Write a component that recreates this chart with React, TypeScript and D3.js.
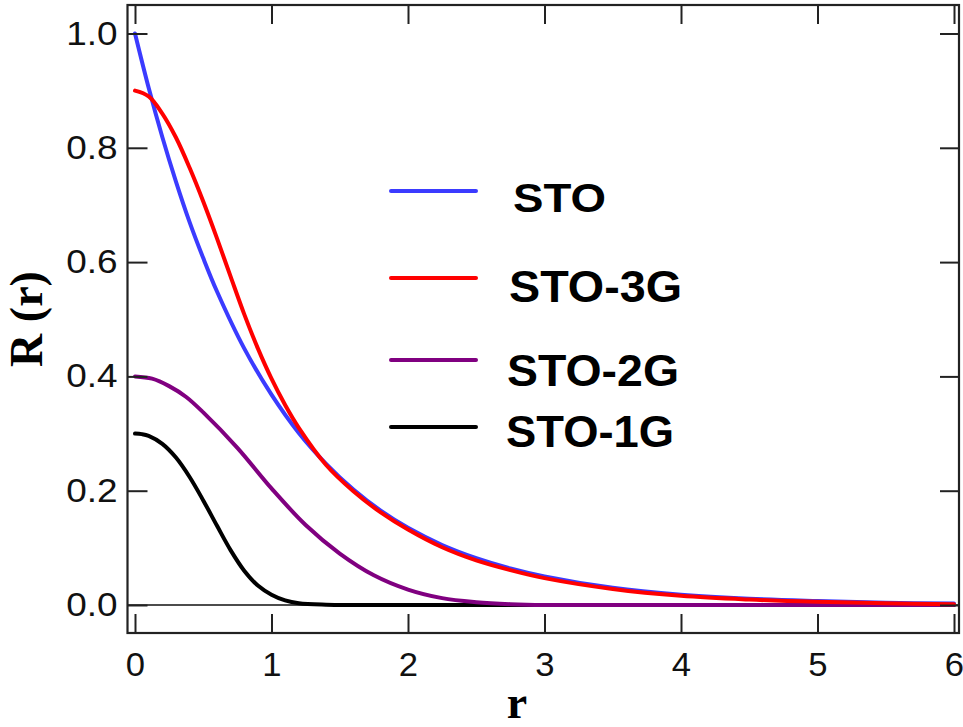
import React, { useEffect, useRef } from 'react';
import * as d3 from 'd3';

const width = 963;
const height = 727;

// values
const stoR = [0, 0.1, 0.2, 0.3, 0.4, 0.5, 0.6, 0.8, 1.0, 1.2, 1.4, 1.6, 1.8, 2.0, 2.25, 2.5, 2.75, 3.0, 3.5, 4.0, 4.5, 5.0, 5.5, 6.0];
const stoV = [1.0, 0.905, 0.819, 0.741, 0.67, 0.607, 0.549, 0.449, 0.368, 0.301, 0.247, 0.202, 0.165, 0.135, 0.105, 0.082, 0.064, 0.05, 0.03, 0.018, 0.011, 0.007, 0.004, 0.0025];

const sto3gR = [0, 0.1, 0.2, 0.3, 0.4, 0.5, 0.6, 0.7, 0.8, 0.9, 1.0, 1.1, 1.2, 1.4, 1.6, 1.8, 2.0, 2.25, 2.5, 2.75, 3.0, 3.5, 4.0, 4.5, 5.0, 5.5, 6.0];
const sto3gV = [0.9, 0.89, 0.86, 0.818, 0.765, 0.706, 0.642, 0.575, 0.509, 0.449, 0.396, 0.35, 0.31, 0.245, 0.199, 0.162, 0.132, 0.101, 0.078, 0.061, 0.047, 0.028, 0.016, 0.0095, 0.0055, 0.003, 0.0015];

const sto2gR = [0, 0.125, 0.25, 0.375, 0.5, 0.75, 1.0, 1.25, 1.5, 1.75, 2.0, 2.25, 2.5, 2.75, 3.0, 4.0, 5.0, 6.0];
const sto2gV = [0.4, 0.396, 0.383, 0.364, 0.337, 0.275, 0.204, 0.14, 0.09, 0.052, 0.027, 0.012, 0.005, 0.0015, 0, 0, 0, 0];

const sto1gR = [0, 0.05, 0.1, 0.2, 0.3, 0.4, 0.5, 0.6, 0.7, 0.8, 0.9, 1.0, 1.1, 1.2, 1.4, 1.6, 2.0, 3.0, 4.0, 5.0, 6.0];
const sto1gV = [0.3, 0.299, 0.296, 0.282, 0.258, 0.224, 0.183, 0.139, 0.096, 0.06, 0.034, 0.018, 0.008, 0.003, 0.0005, 0, 0, 0, 0, 0, 0];

const labels = ['STO', 'STO-3G', 'STO-2G', 'STO-1G'];
const colors = ['#3b3bff', '#ff0000', '#800080', '#000000'];

const xTicks = [0, 1, 2, 3, 4, 5, 6];
const yTicks = [0, 0.2, 0.4, 0.6, 0.8, 1.0];

const frame = { left: 127.5, right: 959, top: 5, bottom: 633 };

const x = d3.scaleLinear().domain([0, 6]).range([135, 954]);
const y = d3.scaleLinear().domain([0, 1]).range([605, 33.5]);

const App = () => {
  const ref = useRef<SVGSVGElement>(null);

  useEffect(() => {
    const svg = d3.select(ref.current);
    svg.selectAll('*').remove();

    const series = [
      { name: labels[3], r: sto1gR, v: sto1gV, color: colors[3] },
      { name: labels[2], r: sto2gR, v: sto2gV, color: colors[2] },
      { name: labels[0], r: stoR, v: stoV, color: colors[0] },
      { name: labels[1], r: sto3gR, v: sto3gV, color: colors[1] },
    ];

    // zero line
    svg
      .append('line')
      .attr('x1', frame.left)
      .attr('x2', frame.right)
      .attr('y1', y(0))
      .attr('y2', y(0))
      .attr('stroke', '#111')
      .attr('stroke-width', 1.6);

    const line = d3
      .line<[number, number]>()
      .x(d => x(d[0]))
      .y(d => y(Math.max(d[1], 0)))
      .curve(d3.curveCatmullRom.alpha(0.5));

    svg
      .selectAll('path.series')
      .data(series)
      .enter()
      .append('path')
      .classed('series', true)
      .attr('d', s => line(s.r.map((r, i) => [r, s.v[i]] as [number, number])))
      .attr('fill', 'none')
      .attr('stroke', s => s.color)
      .attr('stroke-width', 4)
      .attr('stroke-linecap', 'round');

    // axes
    const styleAxis = (g: any) => {
      g.select('.domain').remove();
      g.selectAll('.tick line').attr('stroke', '#222').attr('stroke-width', 2);
      g.selectAll('.tick text')
        .attr('fill', '#111')
        .style('font-family', '"Liberation Sans", Arial, sans-serif')
        .style('font-size', '33px');
    };

    svg
      .append('g')
      .attr('transform', `translate(0,${frame.bottom})`)
      .call(d3.axisBottom(x).tickValues(xTicks).tickSize(-19).tickPadding(20).tickFormat(d3.format('d')))
      .call(styleAxis)
      .call(g => g.selectAll('.tick text').attr('transform', 'scale(1.05,1)'));

    svg
      .append('g')
      .attr('transform', `translate(0,${frame.top})`)
      .call(d3.axisTop(x).tickValues(xTicks).tickSize(-19).tickFormat(() => ''))
      .call(styleAxis);

    svg
      .append('g')
      .attr('transform', `translate(${frame.left},0)`)
      .call(d3.axisLeft(y).tickValues(yTicks).tickSize(-20).tickPadding(10).tickFormat(d3.format('.1f')))
      .call(styleAxis)
      .call(g => g.selectAll('.tick text').attr('x', 0).attr('transform', 'translate(-10,0) scale(1.12,1)'));

    svg
      .append('g')
      .attr('transform', `translate(${frame.right},0)`)
      .call(d3.axisRight(y).tickValues(yTicks).tickSize(-19).tickFormat(() => ''))
      .call(styleAxis);

    svg
      .append('rect')
      .attr('x', frame.left)
      .attr('y', frame.top)
      .attr('width', frame.right - frame.left)
      .attr('height', frame.bottom - frame.top)
      .attr('fill', 'none')
      .attr('stroke', '#222')
      .attr('stroke-width', 2.2);

    // axis titles
    svg
      .append('text')
      .attr('transform', `translate(42,${(frame.top + frame.bottom) / 2}) rotate(-90)`)
      .attr('text-anchor', 'middle')
      .style('font-family', '"Liberation Serif", "Times New Roman", serif')
      .style('font-weight', 'bold')
      .style('font-size', '46px')
      .text('R (r)');

    svg
      .append('text')
      .attr('x', 517)
      .attr('y', 718)
      .attr('text-anchor', 'middle')
      .style('font-family', '"Liberation Serif", "Times New Roman", serif')
      .style('font-weight', 'bold')
      .style('font-size', '46px')
      .text('r');

    // legend
    const legend = [
      { name: labels[0], color: colors[0], ly: 191, tx: 513, ty: 212, size: 40, len: 93 },
      { name: labels[1], color: colors[1], ly: 278, tx: 509, ty: 302, size: 45, len: 173 },
      { name: labels[2], color: colors[2], ly: 360, tx: 507, ty: 386, size: 45, len: 172 },
      { name: labels[3], color: colors[3], ly: 427, tx: 506, ty: 447, size: 45, len: 168 },
    ];
    const lg = svg.selectAll('g.legend').data(legend).enter().append('g').classed('legend', true);
    lg.append('line')
      .attr('x1', 391)
      .attr('x2', 476)
      .attr('y1', d => d.ly)
      .attr('y2', d => d.ly)
      .attr('stroke', d => d.color)
      .attr('stroke-width', 4)
      .attr('stroke-linecap', 'round');
    lg.append('text')
      .attr('x', d => d.tx)
      .attr('y', d => d.ty)
      .attr('textLength', d => d.len)
      .attr('lengthAdjust', 'spacingAndGlyphs')
      .style('font-family', '"Liberation Sans", Arial, sans-serif')
      .style('font-weight', 'bold')
      .style('font-size', d => `${d.size}px`)
      .text(d => d.name);
  }, []);

  return (
    <svg
      ref={ref}
      width={width}
      height={height}
      style={{ position: 'absolute', left: 0, top: 0, background: '#fff' }}
    />
  );
};

export default App;
